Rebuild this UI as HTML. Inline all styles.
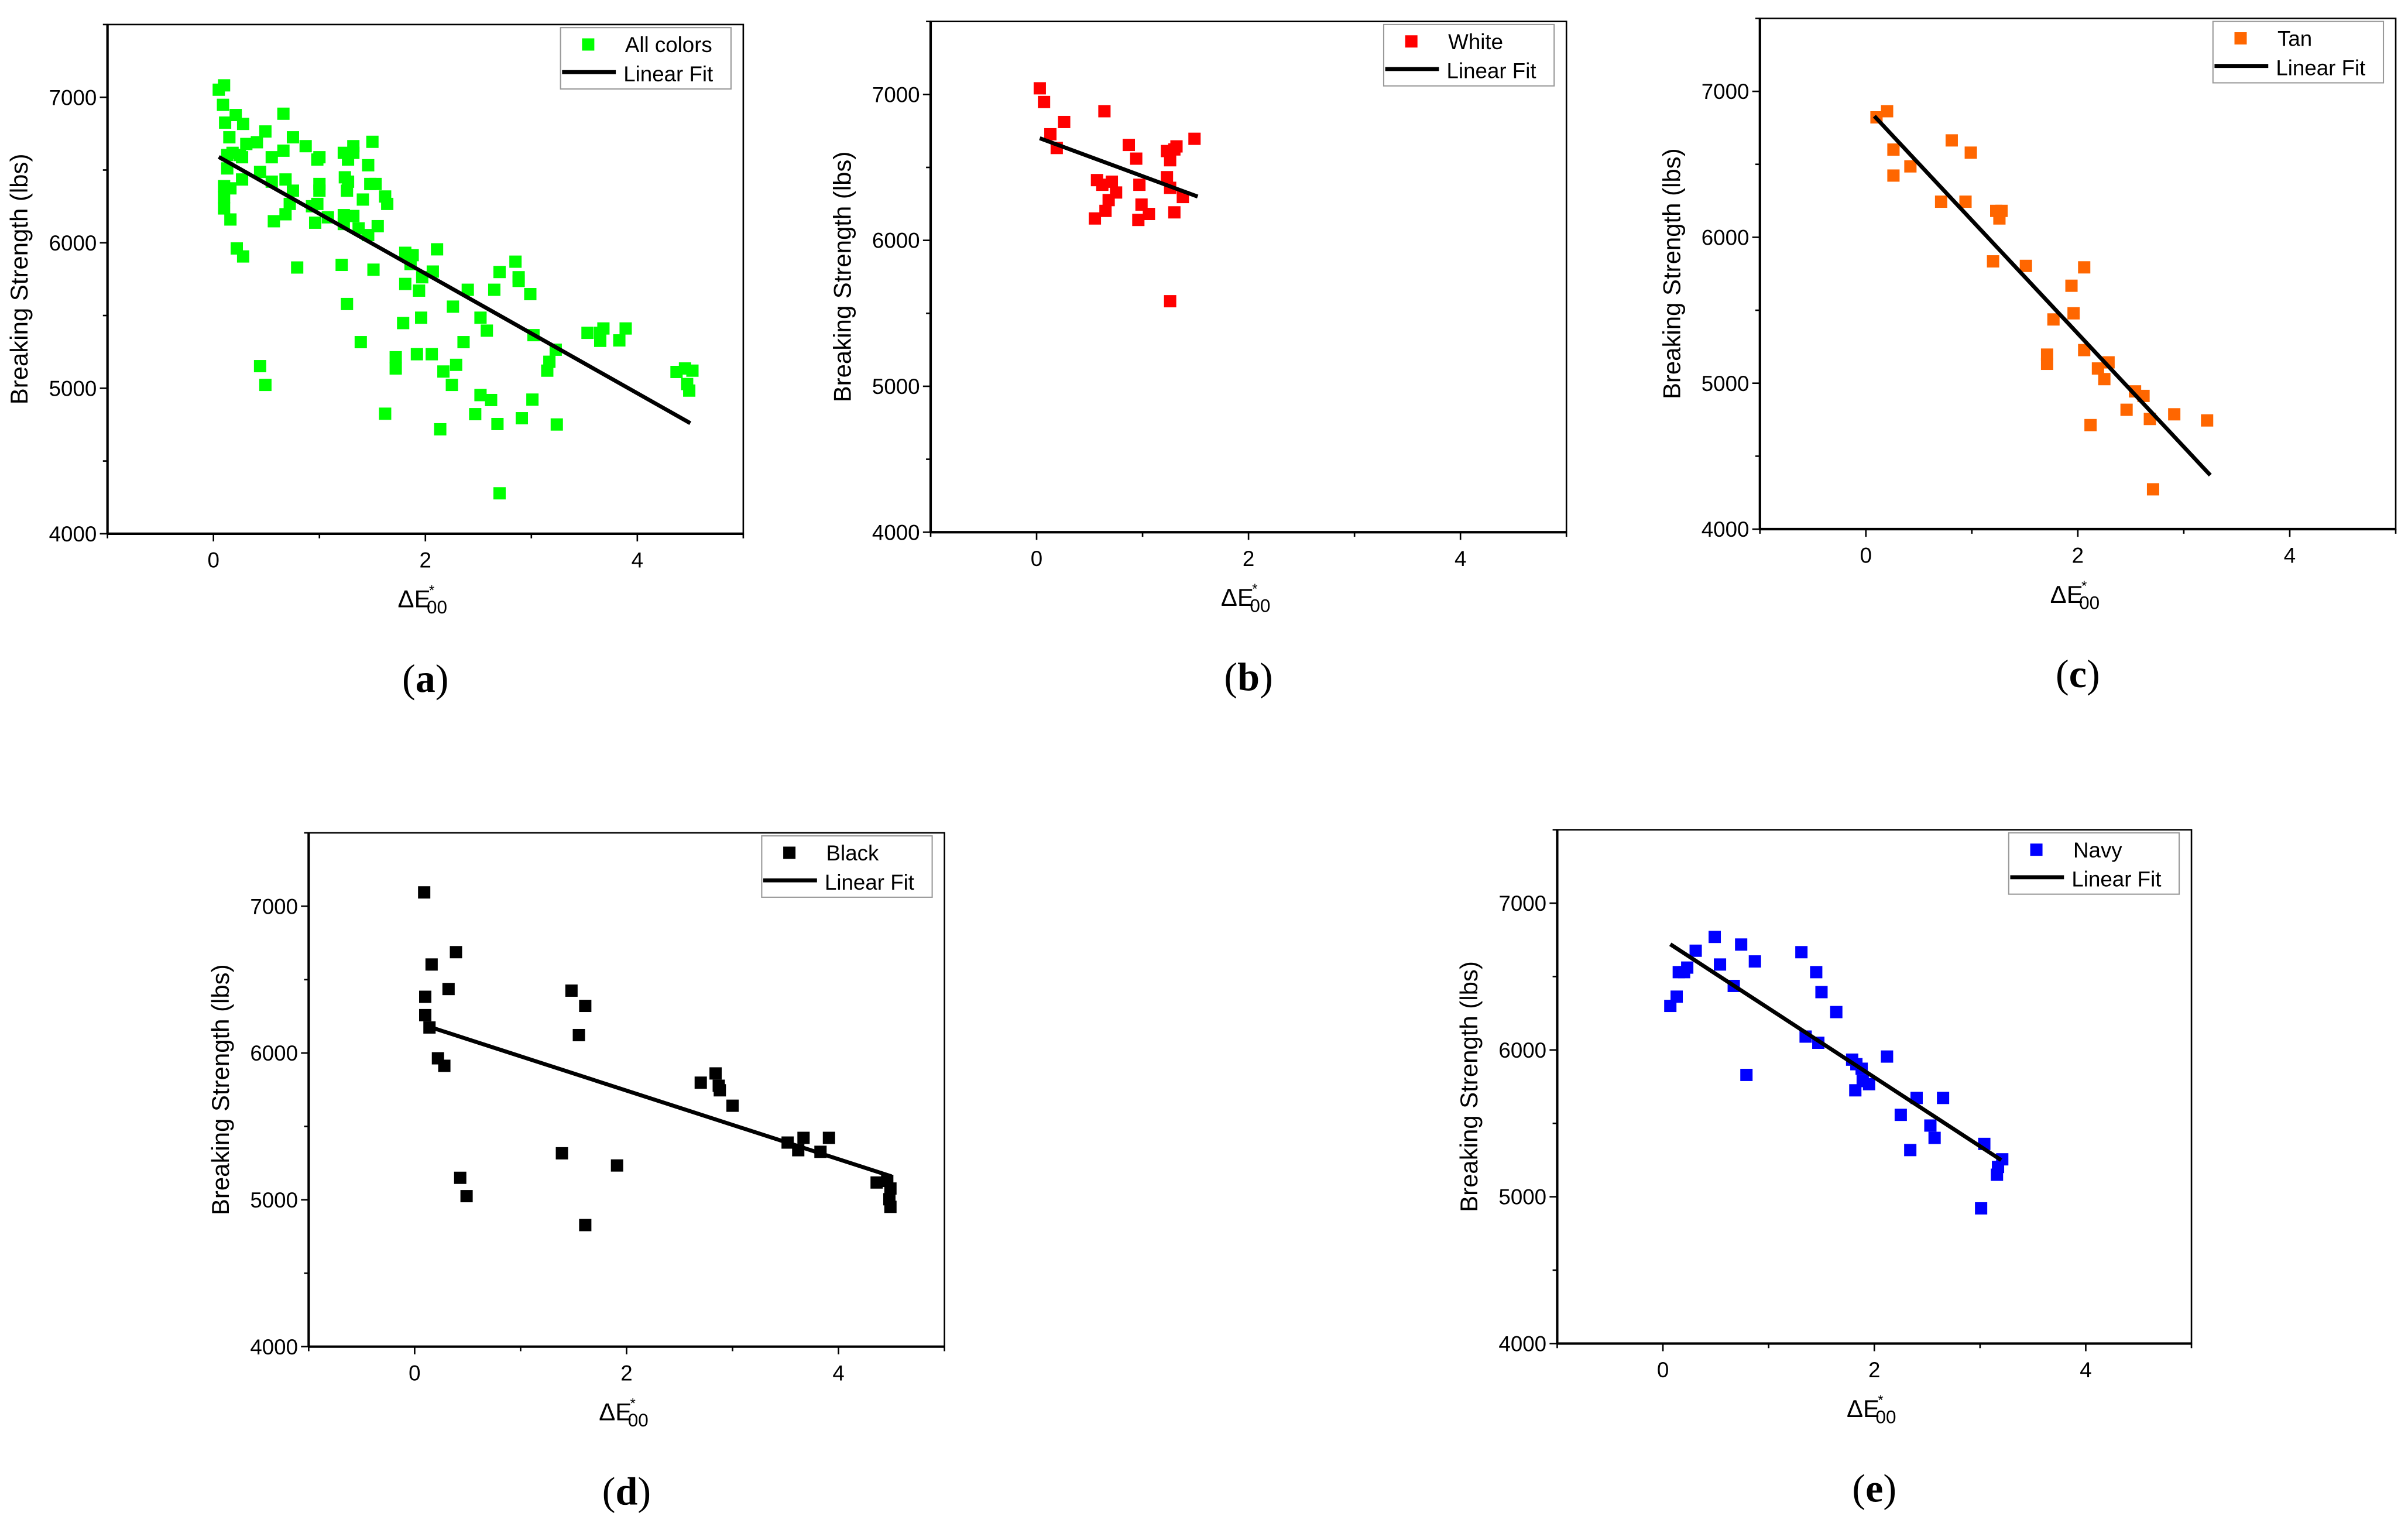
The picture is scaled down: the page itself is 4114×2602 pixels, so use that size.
<!DOCTYPE html>
<html><head><meta charset="utf-8">
<style>
html,body{margin:0;padding:0;background:#fff;}
svg{display:block;}
text{font-family:"Liberation Sans",sans-serif;}
text.serif{font-family:"Liberation Serif",serif;}
</style></head>
<body>
<svg id="fig" width="4114" height="2602" viewBox="0 0 1568 993" preserveAspectRatio="none" xmlns="http://www.w3.org/2000/svg">
<rect width="1568" height="993" fill="#fff"/>
</svg>
<script>
// ---- data ----
const allX=[0.05,0.10,0.09,0.11,0.21,0.28,0.15,0.66,0.49,0.41,0.31,0.13,0.18,0.25,0.13,0.27,0.55,0.66,0.75,0.87,0.98,1.00,0.44,0.27,0.10,0.10,0.10,0.16,0.16,0.55,0.68,0.75,0.72,0.68,0.57,0.93,0.98,1.00,1.00,0.96,1.08,1.23,1.27,1.32,1.32,1.50,1.46,1.24,1.26,1.27,1.48,1.41,1.53,1.62,1.64,1.23,1.32,1.23,1.37,1.46,1.55,0.22,0.28,0.79,1.21,1.51,1.81,1.88,1.86,1.81,1.94,1.97,2.07,2.11,1.26,1.79,1.96,1.39,1.92,1.72,1.72,2.06,2.17,2.29,2.25,2.26,2.40,2.36,2.52,2.58,2.52,2.62,2.47,2.65,2.70,2.85,2.88,2.88,2.99,3.02,3.15,3.17,3.23,3.01,2.91,2.68,3.24,2.14,2.70,1.62,0.44,0.49,3.53,3.65,3.65,3.68,3.83,3.89,4.37,4.45,4.52,4.47,4.49];
const allY=[7052,7082,6948,6826,6878,6817,6725,6887,6765,6691,6679,6603,6618,6603,6511,6588,6588,6633,6725,6664,6572,6588,6487,6435,6389,6313,6236,6374,6160,6420,6435,6358,6267,6196,6148,6251,6267,6404,6358,6138,6175,6618,6572,6664,6618,6694,6533,6450,6358,6420,6404,6297,6404,6318,6267,6190,6184,6129,6099,6053,6114,5961,5906,5830,5848,5815,5931,5915,5854,5717,5671,5763,5802,5955,5579,5448,5485,5317,5234,5213,5136,5234,5115,5161,5023,5561,5677,5317,5485,5396,4953,4919,4822,5677,5799,5870,5763,5738,5647,5365,5121,5182,5265,4922,4794,4754,4751,4718,4278,4825,5152,5023,5381,5381,5326,5411,5329,5411,5112,5136,5121,5029,4984];
const allFit=[[0.05,6590],[4.5,4760]];
const whiteX=[0.03,0.07,0.13,0.19,0.26,0.64,0.57,0.55,0.62,0.68,0.65,0.71,0.75,0.87,0.94,0.97,0.99,0.96,1.06,1.23,1.26,1.30,1.32,1.23,1.26,1.30,1.38,1.49,1.26];
const whiteY=[7042,6948,6727,6633,6811,6885,6413,6150,6381,6276,6202,6402,6328,6654,6560,6381,6245,6140,6181,6612,6549,6623,6644,6433,6360,6192,6297,6696,5583];
const whiteFit=[[0.03,6700],[1.52,6300]];
const tanX=[0.10,0.20,0.26,0.26,0.42,0.81,0.99,0.71,0.94,1.23,1.26,1.28,1.20,1.51,2.06,1.94,1.96,1.77,1.71,1.71,2.06,2.19,2.29,2.25,2.12,2.46,2.54,2.62,2.68,2.91,3.22,2.71];
const tanY=[6822,6864,6601,6423,6486,6664,6580,6244,6244,6181,6129,6181,5835,5804,5794,5668,5479,5437,5196,5133,5227,5101,5143,5028,4713,4818,4944,4913,4755,4787,4745,4273];
const tanFit=[[0.08,6830],[3.25,4370]];
const blackX=[0.09,0.10,0.10,0.16,0.14,0.32,0.39,0.22,0.28,0.43,0.49,1.48,1.61,1.55,1.39,1.91,1.61,2.70,2.84,2.87,2.88,3.00,3.52,3.67,3.62,3.83,3.91,4.36,4.46,4.49,4.48,4.49];
const blackY=[7094,6383,6258,6603,6174,6436,6687,5964,5913,5150,5025,6425,6321,6122,5317,5234,4828,5798,5861,5777,5746,5641,5390,5422,5338,5327,5422,5118,5129,5077,5004,4952];
const blackFit=[[0.09,6190],[4.5,5160]];
const navyX=[0.07,0.13,0.15,0.20,0.23,0.31,0.49,0.54,0.67,0.74,0.87,0.79,1.31,1.45,1.50,1.64,1.35,1.47,1.79,1.83,1.82,1.88,1.89,1.95,2.12,2.25,2.40,2.34,2.53,2.57,2.65,3.04,3.01,3.16,3.17,3.21];
const navyY=[6300,6363,6530,6530,6561,6676,6770,6582,6436,6718,6603,5830,6666,6530,6394,6258,6091,6049,5934,5903,5725,5872,5788,5767,5955,5558,5673,5318,5485,5401,5673,5360,4921,5150,5203,5255];
const navyFit=[[0.07,6720],[3.2,5250]];
const xTicks=[0,2,4];
const yTicks=[4000,5000,6000,7000];

const NS="http://www.w3.org/2000/svg";
const svg=document.getElementById('fig');
function mk(tag,attrs,parent){const e=document.createElementNS(NS,tag);for(const k in attrs)e.setAttribute(k,attrs[k]);(parent||svg).appendChild(e);return e;}

function panel(id,L,R,T,B,xs,ys,fit,color,legend,letter){
  const g=mk('g',{});
  
  
  const sx=v=>L+(v+1)/6*(R-L);
  const sy=v=>B-(v-4000)/3500*(B-T);
  const frame=mk('rect',{x:L,y:T,width:R-L,height:B-T,fill:'none',stroke:'#000','stroke-width':1},g);
  
  
  mk('line',{x1:L,y1:T,x2:L,y2:B,stroke:'#000','stroke-width':1.6},g);
  mk('line',{x1:L,y1:B,x2:R,y2:B,stroke:'#000','stroke-width':1.6},g);
  for(let v=-1;v<=5;v++){const x=sx(v);mk('line',{x1:x,y1:B,x2:x,y2:B+(v%2===0?5:3),stroke:'#000','stroke-width':1},g);}
  for(let v=4000;v<=7500;v+=500){const y=sy(v);mk('line',{x1:L,y1:y,x2:L-(v%1000===0?5:3),y2:y,stroke:'#000','stroke-width':1},g);}
  xTicks.forEach(v=>{const t=mk('text',{x:sx(v),y:B+22,'font-size':14,'text-anchor':'middle'},g);t.textContent=v;
    
    });
  yTicks.forEach(v=>{const t=mk('text',{x:L-7,y:sy(v)+5,'font-size':14,'text-anchor':'end'},g);t.textContent=v;
    
    });
  const yl=mk('text',{x:0,y:0,'font-size':16,'text-anchor':'middle',transform:`translate(${L-52},${(T+B)/2}) rotate(-90)`},g);
  yl.textContent='Breaking Strength (lbs)';
  
  
  const xl=mk('text',{x:sx(2)-18,y:B+48,'font-size':16},g);
  
  
  xl.innerHTML='ΔE<tspan font-size="9" dx="-1" dy="-8">*</tspan><tspan font-size="12" dx="-5" dy="12">00</tspan>';
  xs.forEach((x,i)=>{const r=mk('rect',{x:sx(x)-4,y:sy(ys[i])-4,width:8,height:8,fill:color},g);
    
    });
  const fl=mk('line',{x1:sx(fit[0][0]),y1:sy(fit[0][1]),x2:sx(fit[1][0]),y2:sy(fit[1][1]),stroke:'#000','stroke-width':2.6},g);
  
  
  const lw=111,lx=R-119,ly=T+2;
  const lg=mk('g',{},g);
  
  
  mk('rect',{x:lx,y:ly,width:lw,height:40,fill:'#fff',stroke:'#999','stroke-width':0.8},lg);
  mk('rect',{x:lx+14,y:ly+7,width:8,height:8,fill:color},lg);
  const t1=mk('text',{x:lx+42,y:ly+16,'font-size':14},lg);t1.textContent=legend;
  
  
  mk('line',{x1:lx+1,y1:ly+29,x2:lx+36,y2:ly+29,stroke:'#000','stroke-width':2.6},lg);
  const t2=mk('text',{x:lx+41,y:ly+35,'font-size':14},lg);t2.textContent='Linear Fit';
  
  
  const pl=mk('text',{x:sx(2),y:B+103,'font-size':26,'text-anchor':'middle','class':'serif'},g);
  pl.innerHTML='(<tspan font-weight="bold">'+letter+'</tspan>)';
  
  
}
panel('a',70,484,16,348,allX,allY,allFit,'#00ff00','All colors','a');
panel('b',606,1020,14,347,whiteX,whiteY,whiteFit,'#ff0000','White','b');
panel('c',1146,1560,12,345,tanX,tanY,tanFit,'#ff6600','Tan','c');
panel('d',201,615,543,878,blackX,blackY,blackFit,'#000000','Black','d');
panel('e',1014,1427,541,876,navyX,navyY,navyFit,'#0000ff','Navy','e');
</script>
</body></html>
